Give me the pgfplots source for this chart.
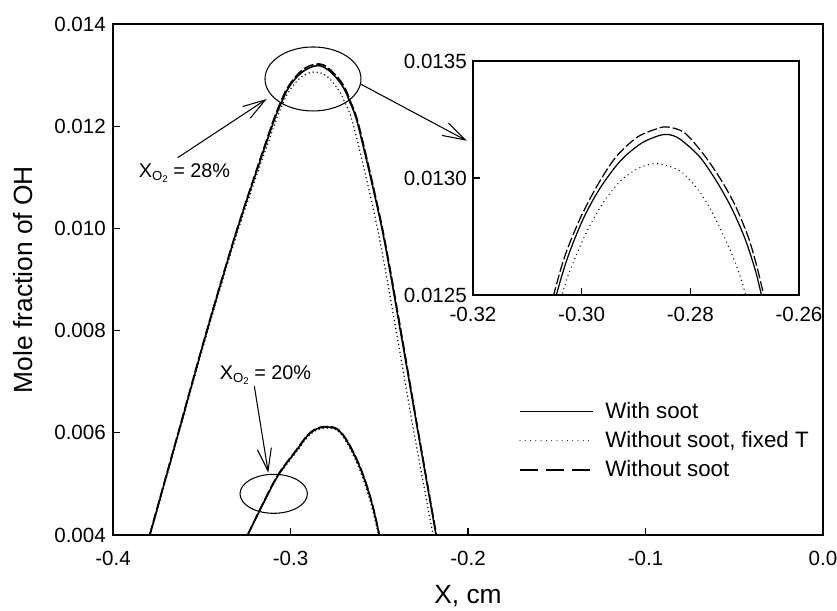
\documentclass[border=0pt]{standalone}
\usepackage{fontspec}
\setmainfont{Liberation Sans}
\usepackage{pgfplots}
\usepackage{pgfplotstable}
\pgfplotsset{compat=1.18}
\usetikzlibrary{arrows.meta}

\newcommand{\xo}{X\raisebox{-0.35ex}{\fontsize{7.5}{8}\selectfont O\raisebox{-0.3ex}{\fontsize{5.5}{6}\selectfont 2}}}

% X_O2 = 28%
\pgfplotstableread{
x y
-0.3792 0.0040
-0.3631 0.0060
-0.3470 0.0080
-0.3298 0.0100
-0.3104 0.0120
-0.30462 0.012503
-0.30235 0.012675
-0.29958 0.012832
-0.29649 0.012961
-0.29280 0.013075
-0.28910 0.013147
-0.28604 0.013179
-0.28420 0.013186
-0.28203 0.013168
-0.27834 0.013092
-0.27526 0.012989
-0.27249 0.012875
-0.27003 0.012746
-0.26818 0.012617
-0.26694 0.012503
-0.2618 0.0120
-0.2485 0.0100
-0.2376 0.0079
-0.2281 0.0060
-0.2180 0.0040
}\solidA
\pgfplotstableread{
x y
-0.3790 0.0040
-0.3628 0.0060
-0.3466 0.0080
-0.3292 0.0100
-0.3093 0.0120
-0.30358 0.012503
-0.30142 0.012646
-0.29896 0.012775
-0.29619 0.012889
-0.29280 0.012989
-0.28910 0.013046
-0.28604 0.013061
-0.28203 0.013032
-0.27895 0.012961
-0.27649 0.012875
-0.27403 0.012761
-0.27188 0.012646
-0.26985 0.012503
-0.2644 0.0120
-0.2510 0.0100
-0.2400 0.0079
-0.2304 0.0060
-0.2197 0.0040
}\dotA
\pgfplotstableread{
x y
-0.3794 0.0040
-0.3633 0.0060
-0.3472 0.0080
-0.3300 0.0100
-0.3108 0.0120
-0.30512 0.012503
-0.30296 0.012675
-0.30018 0.012832
-0.29712 0.012968
-0.29372 0.013089
-0.28973 0.013175
-0.28604 0.013211
-0.28420 0.013218
-0.28111 0.013194
-0.27773 0.013106
-0.27465 0.013003
-0.27188 0.012889
-0.26942 0.012753
-0.26787 0.012632
-0.26652 0.012503
-0.2614 0.0120
-0.2482 0.0100
-0.2373 0.0079
-0.2279 0.0060
-0.2178 0.0040
}\dashA
% X_O2 = 20%
\pgfplotstableread{
x y
-0.3241 0.0040
-0.3153 0.00462
-0.3069 0.00517
-0.2965 0.00566
-0.2890 0.00599
-0.2811 0.00611
-0.2721 0.00602
-0.2627 0.00547
-0.2552 0.00475
-0.2500 0.0040
}\solidB
\pgfplotstableread{
x y
-0.3240 0.0040
-0.3152 0.00462
-0.3068 0.00516
-0.2963 0.00564
-0.2888 0.00597
-0.2810 0.00609
-0.2722 0.00600
-0.2630 0.00544
-0.2556 0.00472
-0.2504 0.0040
}\dotB
\pgfplotstableread{
x y
-0.3242 0.0040
-0.3154 0.00463
-0.3070 0.00518
-0.2966 0.00567
-0.2891 0.00600
-0.2811 0.00612
-0.2720 0.00603
-0.2626 0.00548
-0.2551 0.00476
-0.2499 0.0040
}\dashB

\tikzset{
  solidline/.style={line width=0.9pt},
  dotline/.style={line width=0.9pt, line cap=round, dash pattern=on 0pt off 2.3pt},
  dashline/.style={line width=0.9pt, dash pattern=on 0.2cm off 0.06cm},
  arr/.style={line width=0.6pt, -{Straight Barb[length=0.45cm,width=0.28cm]}},
}

\begin{document}
\begin{tikzpicture}
\begin{axis}[
  name=main, at={(0,0)}, anchor=south west, scale only axis,
  width=14.2cm, height=10.22cm,
  xmin=-0.4, xmax=0, ymin=0.004, ymax=0.014,
  xtick={-0.4,-0.3,-0.2,-0.1,0},
  ytick={0.004,0.006,0.008,0.010,0.012,0.014},
  scaled ticks=false, tick align=inside, xtick pos=bottom, ytick pos=left,
  major tick length=0.14cm,
  /pgf/number format/assume math mode=true,
  xticklabel style={/pgf/number format/fixed, /pgf/number format/fixed zerofill, /pgf/number format/precision=1, yshift=-0.2cm},
  yticklabel style={/pgf/number format/fixed, /pgf/number format/fixed zerofill, /pgf/number format/precision=3, xshift=-0.02cm},
  tick label style={font=\fontsize{11.7}{13}\selectfont},
  axis line style={line width=0.75pt},
  every tick/.style={black, line width=0.75pt},
  xlabel={X, cm}, ylabel={Mole fraction of OH},
  label style={font=\fontsize{15}{17}\selectfont},
  xlabel style={at={(rel axis cs:0.5,-0.1195)}, anchor=center},
  ylabel style={at={(rel axis cs:-0.127,0.5)}, anchor=center},
  clip=false,
  legend cell align=left,
  legend style={draw=none, fill=none, at={(axis cs:-0.1713,0.00668)}, anchor=north west,
    font=\fontsize{12.7}{14}\selectfont, row sep=0.07cm, inner sep=0pt},
]
\addplot[solidline, smooth, tension=0.5,
  legend image code/.code={\draw[line width=0.8pt] (0cm,0cm) -- (1.46cm,0cm); \path (1.62cm,0cm);}]
  table[x=x,y=y] {\solidA};
\addlegendentry{With soot}
\addplot[dotline, smooth, tension=0.5,
  legend image code/.code={\draw[line width=0.6pt, line cap=round, dash pattern=on 0pt off 3pt] (0cm,0cm) -- (1.46cm,0cm); \path (1.62cm,0cm);}]
  table[x=x,y=y] {\dotA};
\addlegendentry{Without soot, fixed T}
\addplot[dashline, smooth, tension=0.5,
  legend image code/.code={\draw[line width=0.8pt, dash pattern=on 0.36cm off 0.16cm] (0cm,0cm) -- (1.46cm,0cm); \path (1.62cm,0cm);}]
  table[x=x,y=y] {\dashA};
\addlegendentry{Without soot}
\addplot[solidline, smooth, tension=0.6, forget plot] table[x=x,y=y] {\solidB};
\addplot[dotline, smooth, tension=0.6, forget plot] table[x=x,y=y] {\dotB};
\addplot[dashline, smooth, tension=0.6, forget plot] table[x=x,y=y] {\dashB};

\draw[line width=0.6pt] (axis cs:-0.28733,0.012924) ellipse [x radius=0.96cm, y radius=0.64cm];
\draw[line width=0.6pt] (axis cs:-0.30946,0.004806) ellipse [x radius=0.674cm, y radius=0.39cm];
\draw[arr] (axis cs:-0.36355,0.011384) -- (axis cs:-0.3134,0.012532);
\draw[arr] (axis cs:-0.26028,0.01282) -- (axis cs:-0.20073,0.011716);
\draw[arr] (axis cs:-0.3204,0.006916) -- (axis cs:-0.31251,0.005219);
\node[font=\fontsize{11.3}{13}\selectfont] at (axis cs:-0.3597,0.011084) {\xo\ = 28\%};
\node[font=\fontsize{11.3}{13}\selectfont] at (axis cs:-0.31408,0.007131) {\xo\ = 20\%};
\end{axis}

\begin{axis}[
  name=inset, at={(7.2cm,4.8cm)}, anchor=south west, scale only axis,
  width=6.52cm, height=4.68cm,
  xmin=-0.32, xmax=-0.26, ymin=0.0125, ymax=0.0135,
  xtick={-0.32,-0.30,-0.28,-0.26},
  ytick={0.0125,0.0130,0.0135},
  scaled ticks=false, tick align=inside, xtick pos=bottom, ytick pos=left,
  major tick length=0.14cm,
  /pgf/number format/assume math mode=true,
  xticklabel style={/pgf/number format/fixed, /pgf/number format/fixed zerofill, /pgf/number format/precision=2, yshift=-0.12cm},
  yticklabel style={/pgf/number format/fixed, /pgf/number format/fixed zerofill, /pgf/number format/precision=4},
  tick label style={font=\fontsize{11.7}{13}\selectfont},
  axis line style={line width=0.75pt},
  every tick/.style={black, line width=0.75pt},
  axis background/.style={fill=white},
]
\addplot[line width=0.7pt, smooth, tension=0.5] table[x=x,y=y] {\solidA};
\addplot[line width=0.8pt, line cap=round, dash pattern=on 0pt off 2.6pt, smooth, tension=0.5] table[x=x,y=y] {\dotA};
\addplot[line width=0.7pt, dash pattern=on 0.2cm off 0.06cm, smooth, tension=0.5] table[x=x,y=y] {\dashA};
\end{axis}

\pgfresetboundingbox
\path (-2.26cm,-1.52cm) rectangle (14.48cm,10.7cm);
\end{tikzpicture}
\end{document}
